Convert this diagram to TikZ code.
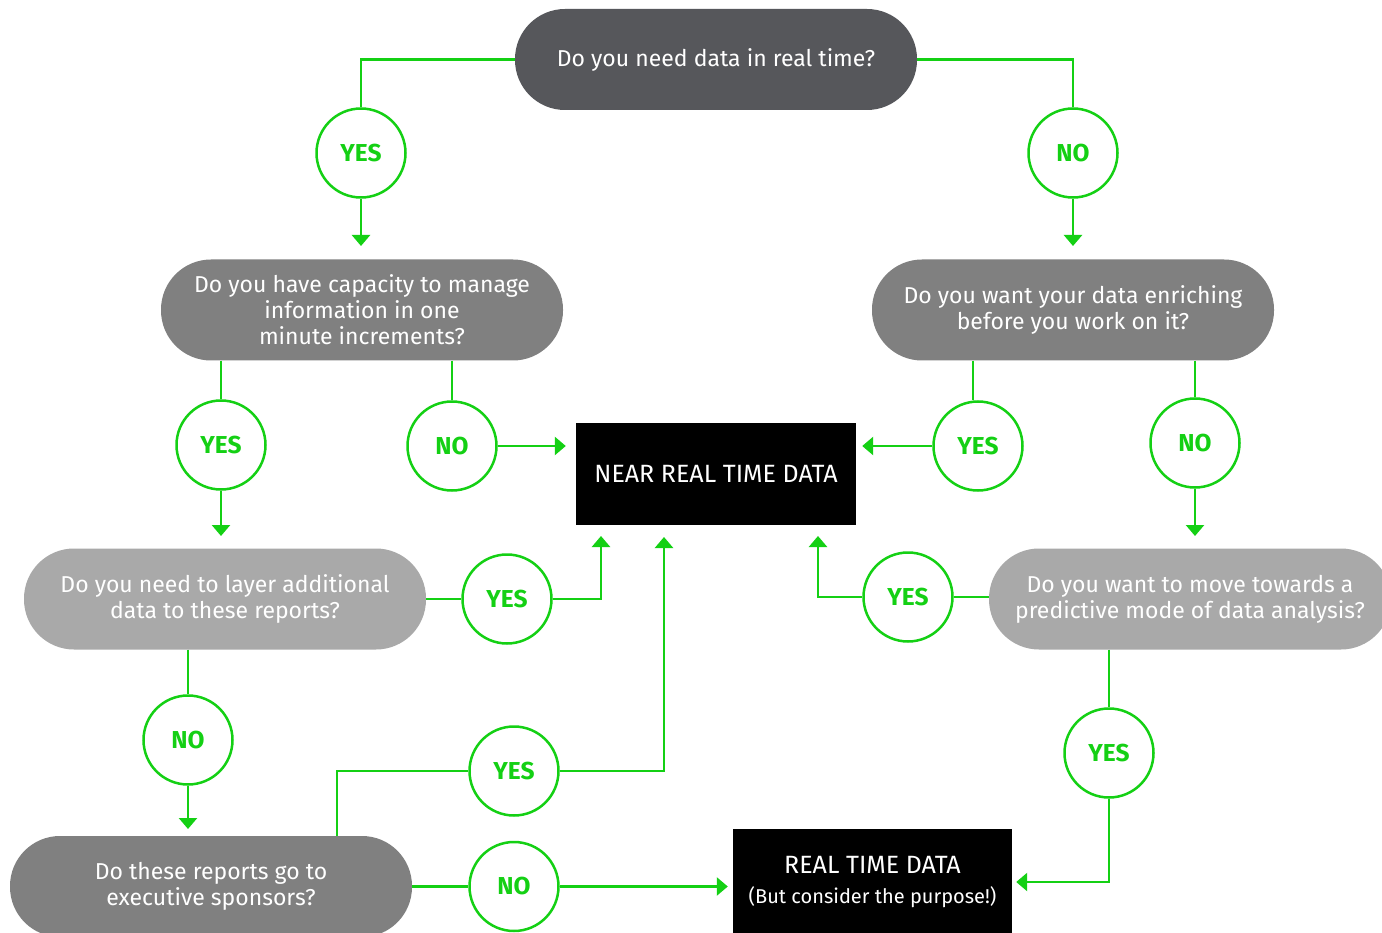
\documentclass[tikz,border=0pt]{standalone}
\usepackage{fontspec}
\setmainfont{Fira Sans}
\usetikzlibrary{arrows.meta,calc}
\definecolor{grn}{RGB}{20,208,20}
\definecolor{qdark}{RGB}{86,87,91}
\definecolor{qmid}{RGB}{128,128,128}
\definecolor{qlight}{RGB}{169,169,169}
\begin{document}
\begin{tikzpicture}[x=1pt,y=-1pt,
  pill/.style={rounded corners=50pt, minimum width=402pt, minimum height=101pt,
    text=white, align=center, font=\fontsize{23}{26}\selectfont, inner sep=0pt},
  ans/.style={circle, draw=grn, line width=2.5pt, fill=white, minimum size=89pt,
    inner sep=0pt, text=grn, font=\fontsize{24.5}{26}\selectfont\bfseries},
  result/.style={fill=black, text=white, align=center, inner sep=0pt,
    font=\fontsize{25}{30}\selectfont},
  link/.style={draw=grn, line width=2.5pt},
  arr/.style={link, -{Triangle[width=18pt,length=11pt]}}
]
\path[use as bounding box] (0,0) rectangle (1382,933);
\clip (0,0) rectangle (1382,933);
\fill[white] (0,0) rectangle (1382,933);

% questions
\node[pill, fill=qdark] (q1) at (716,59.5) {Do you need data in real time?};
\node[pill, fill=qmid] (q2) at (362,310) {Do you have capacity to manage\\information in one\\minute increments?};
\node[pill, fill=qmid] (q3) at (1073,310) {Do you want your data enriching\\before you work on it?};
\node[pill, fill=qlight] (q4) at (225,599) {Do you need to layer additional\\data to these reports?};
\node[pill, fill=qlight] (q5) at (1190,599) {Do you want to move towards a\\predictive mode of data analysis?};
\node[pill, fill=qmid] (q6) at (211,886.5) {Do these reports go to\\executive sponsors?};

% results
\node[result, minimum width=280pt, minimum height=102pt] (nr) at (716,474) {NEAR REAL TIME DATA};
\node[result, minimum width=279pt, minimum height=106pt] (rt) at (872.5,882) {REAL TIME DATA\\{\fontsize{20}{24}\selectfont(But consider the purpose!)}};

% answers
\node[ans] (a1) at (361,153) {YES};
\node[ans] (a2) at (1073,153) {NO};
\node[ans] (a3) at (221,445) {YES};
\node[ans] (a4) at (452,446) {NO};
\node[ans] (a5) at (978,446) {YES};
\node[ans] (a6) at (1195,443) {NO};
\node[ans] (a7) at (507,599) {YES};
\node[ans] (a8) at (908,597) {YES};
\node[ans] (a9) at (188,740) {NO};
\node[ans] (a10) at (514,771) {YES};
\node[ans] (a11) at (514,886.5) {NO};
\node[ans] (a12) at (1109,753) {YES};

% arrow end points
\coordinate (t1) at (361,246);
\coordinate (t2) at (1073,246);
\coordinate (t3) at (221,536);
\coordinate (t6) at (1195,536);
\coordinate (t7) at (601,536);
\coordinate (t8) at (818,536);
\coordinate (t9) at (188,829);
\coordinate (t10) at (664,537);
\coordinate (s10) at (337,836);

% connectors
\draw[link] (q1.west) -| (a1.north);
\draw[arr] (a1.south) -- (t1);
\draw[link] (q1.east) -| (a2.north);
\draw[arr] (a2.south) -- (t2);

\draw[link] (a3.north |- q2.south) -- (a3.north);
\draw[arr] (a3.south) -- (t3);
\draw[link] (a4.north |- q2.south) -- (a4.north);
\draw[arr, shorten >=10pt] (a4.east) -- (a4.east -| nr.west);

\draw[link] ([xshift=-5pt]a5.north |- q3.south) -- ([xshift=-5pt]a5.north);
\draw[arr, shorten >=6pt] (a5.west) -- (a5.west -| nr.east);
\draw[link] (a6.north |- q3.south) -- (a6.north);
\draw[arr] (a6.south) -- (t6);

\draw[link] (q4.east |- a7.west) -- (a7.west);
\draw[arr] (a7.east) -| (t7);
\draw[link] (q5.west |- a8.east) -- (a8.east);
\draw[arr] (a8.west) -| (t8);

\draw[link] (a9.north |- q4.south) -- (a9.north);
\draw[arr] (a9.south) -- (t9);

\draw[link] (s10) |- (a10.west);
\draw[arr] (a10.east) -| (t10);
\draw[link] (q6.east) -- (a11.west);
\draw[arr, shorten >=5pt] (a11.east) -- (a11.east -| rt.west);

\draw[link] (a12.north |- q5.south) -- (a12.north);
\draw[arr, shorten >=4pt] (a12.south) |- (rt.east);
\end{tikzpicture}
\end{document}
